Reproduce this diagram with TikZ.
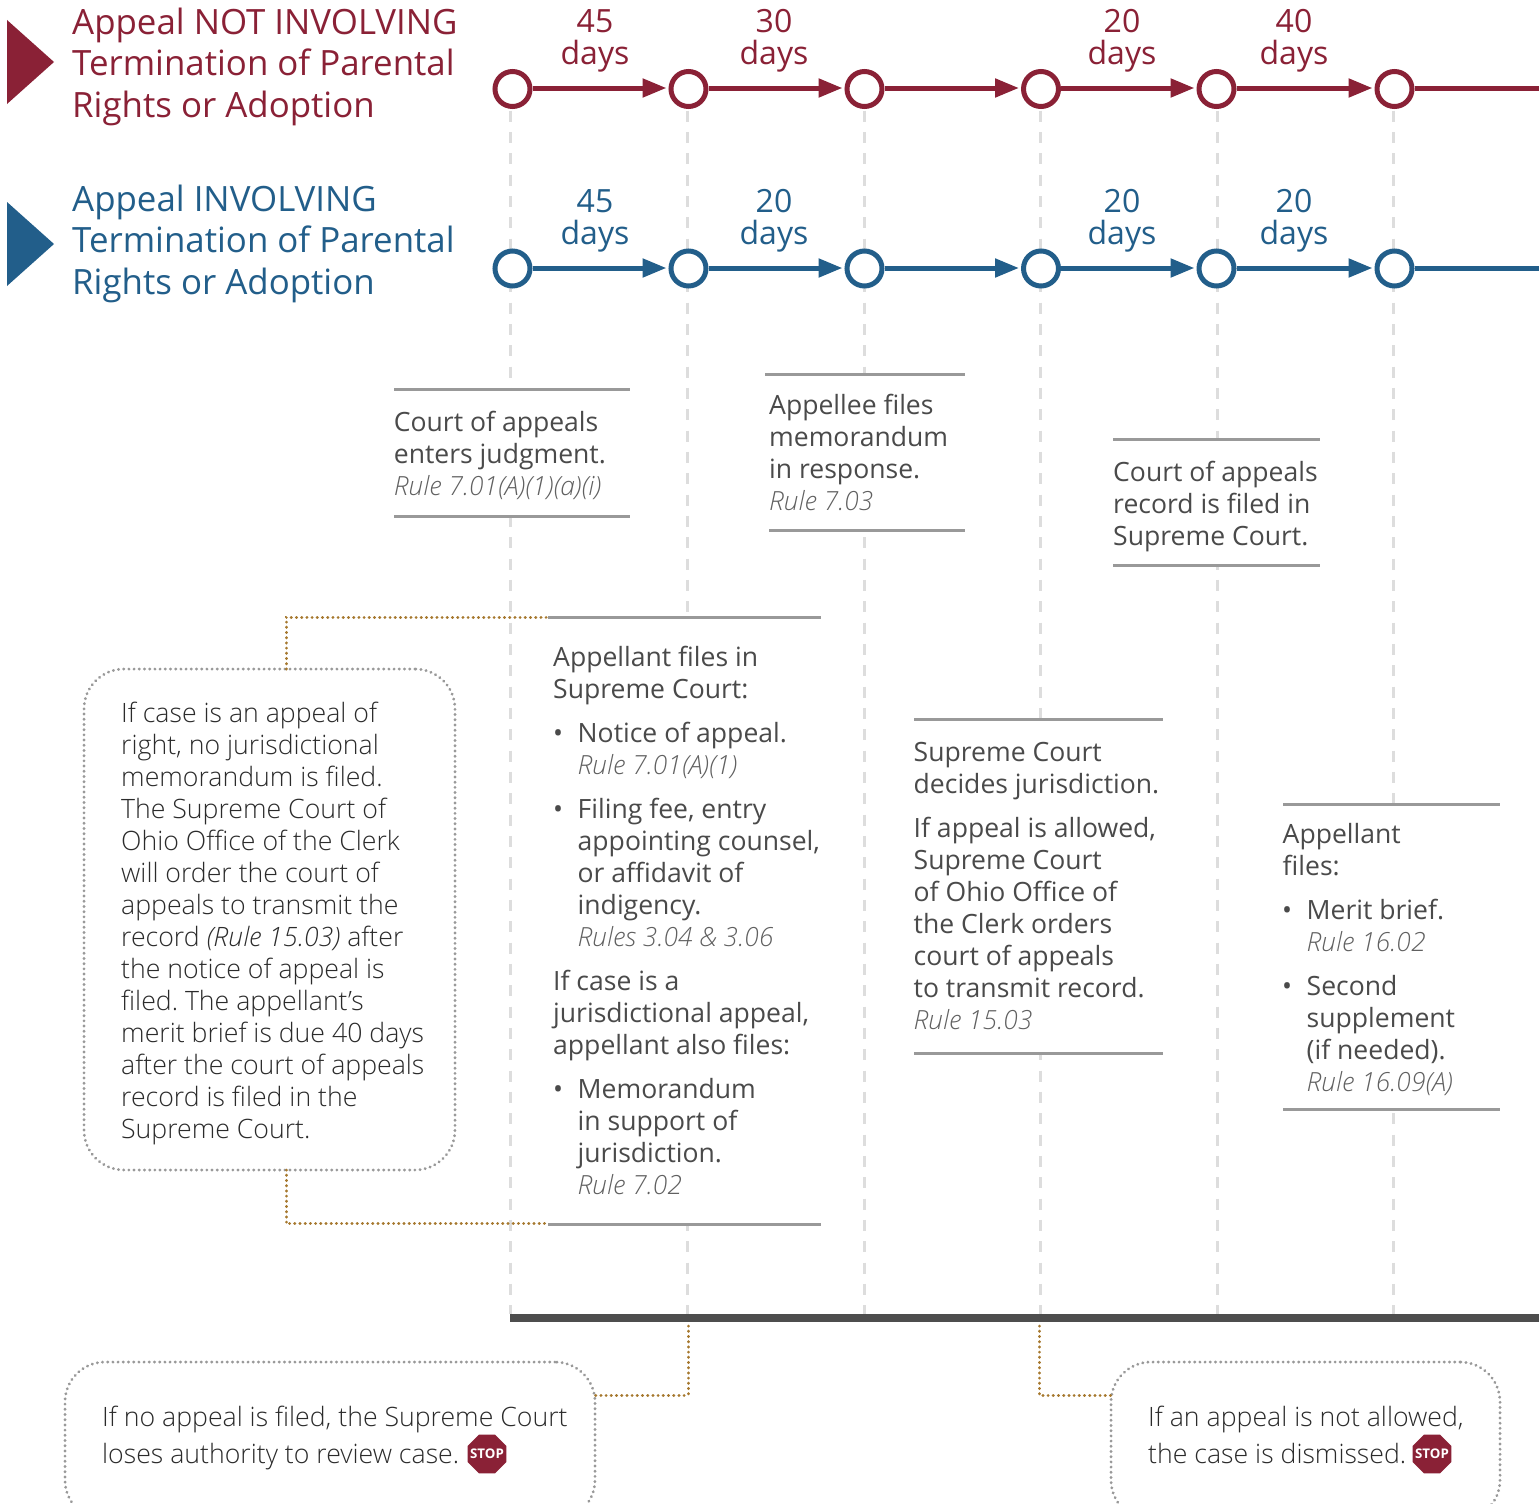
\documentclass[tikz,border=0pt]{standalone}
\usepackage{fontspec}
\setmainfont{Open Sans Light}
\newfontfamily\headfont{Open Sans}
\usetikzlibrary{arrows.meta,shapes.geometric}
\definecolor{cred}{HTML}{8A2136}
\definecolor{cblue}{HTML}{225E8A}
\definecolor{cguide}{HTML}{DDDDDD}
\definecolor{crule}{HTML}{999999}
\definecolor{cbar}{HTML}{4D4D4D}
\definecolor{cgold}{HTML}{A6782E}
\definecolor{cbody}{HTML}{4A4A4A}
\definecolor{cdark}{HTML}{2B2B2B}
\definecolor{crulet}{HTML}{606060}
\tikzset{
  x=1pt,y=-1pt,
  guide/.style={draw=cguide,line width=3pt,dash pattern=on 11pt off 10.33pt},
  mask/.style={fill=white,draw=none,inner sep=0pt,anchor=north west},
  sep/.style={draw=crule,line width=3pt},
  para/.style={inner sep=0pt,align=left,text=cbody,font=\headfont\fontsize{26.55}{32}\selectfont},
  dark/.style={text=cdark,font=\normalfont\fontsize{26.67}{32}\selectfont},
  head/.style={inner sep=0pt,align=left,font=\headfont\fontsize{34.85}{41.6}\selectfont},
  dayl/.style={inner sep=0pt,align=center,anchor=north,font=\headfont\fontsize{32}{32}\selectfont},
  stn/.style={circle,fill=white,line width=5pt,minimum size=35pt,inner sep=0pt},
  link/.style={line width=5pt,-{Triangle[length=24pt,width=18pt]},shorten >=2pt},
  plain/.style={line width=5pt},
  conn/.style={draw=cgold,line width=3pt,line cap=round,dash pattern=on 0.2pt off 5pt},
  dotbox/.style={draw=crule,line width=3pt,line cap=round,dash pattern=on 0.2pt off 5pt,rounded corners=40pt,inner sep=0pt,outer sep=0pt,anchor=north west},
  stopn/.style={regular polygon,regular polygon sides=8,fill=cred,minimum size=42pt,inner sep=0pt},
  stopt/.style={inner sep=0pt,text=white,font=\headfont\bfseries\fontsize{13.3}{13.3}\selectfont},
}
\newcommand\ptxt[5][]{\node[para,#1,anchor=north west] (#2) at (#3,#4-21) {\rule{0pt}{20pt}#5};}
\newcommand\rulet[1]{{\normalfont\fontsize{26.4}{32}\selectfont\itshape\color{crulet}#1}}
\begin{document}
\frenchspacing
\begin{tikzpicture}
\path[use as bounding box] (0,0) rectangle (1539,1504);
\clip (0,0) rectangle (1539,1504);
\fill[white] (0,0) rectangle (1539,1504);

% vertical guides
\foreach \gx in {510,687,864,1040,1217,1393}
  \draw[guide] (\gx,110.7) -- (\gx,1314);

% masks for the text boxes
\node[mask,minimum width=236pt,minimum height=127pt] (b1) at (394,389) {};
\node[mask,minimum width=200pt,minimum height=156pt] (b2) at (765,374) {};
\node[mask,minimum width=207pt,minimum height=126pt] (b3) at (1113,439) {};
\node[mask,minimum width=273pt,minimum height=607pt] (b4) at (548,617) {};
\node[mask,minimum width=249pt,minimum height=334pt] (b5) at (914,719) {};
\node[mask,minimum width=217pt,minimum height=305pt] (b6) at (1283,804) {};
\foreach \b in {b1,b3,b4,b5,b6}{
  \draw[sep] (\b.north west) -- (\b.north east);
  \draw[sep] (\b.south west) -- (\b.south east);
}
\draw[sep] (b2.north west) -- (b2.north east);
\draw[sep] ([xshift=4pt]b2.south west) -- (b2.south east);

% heavy bar
\fill[cbar] (510,1314) rectangle (1539,1322);

% headings
\fill[cred] (7,20) -- (54,62) -- (7,104) -- cycle;
\fill[cblue] (7,202) -- (54,244) -- (7,286) -- cycle;
\node[head,text=cred,anchor=north west] (h1) at (72,7) {\rule{0pt}{27pt}Appeal NOT INVOLVING\\Termination of Parental\\Rights or Adoption};
\node[head,text=cblue,anchor=north west] (h2) at (72,184) {\rule{0pt}{27pt}Appeal INVOLVING\\Termination of Parental\\Rights or Adoption};

% timelines
\foreach \n/\x in {1/512.5,2/688.5,3/864.5,4/1041,5/1216.5,6/1394.5}{
  \node[stn,draw=cred] (r\n) at (\x,89) {};
  \node[stn,draw=cblue] (s\n) at (\x,268.5) {};
}
\coordinate (rend) at (1539,88);
\coordinate (send) at (1539,268.5);
\foreach \a/\c in {1/2,2/3,3/4,4/5,5/6}{
  \draw[link,cred] ([yshift=1pt]r\a.east) -- ([yshift=1pt]r\c.west);
  \draw[link,cblue] ([yshift=.5pt]s\a.east) -- ([yshift=.5pt]s\c.west);
}
\draw[plain,cred] ([yshift=1pt]r6.east) -- (rend);
\draw[plain,cblue] (s6.east) -- (send);

% day labels
\foreach \n/\x/\tr/\tb in {1/595/45/45,2/774/30/20,3/1122/20/20,4/1294/40/20}{
  \node[dayl,text=cred] (dr\n) at (\x,9) {\rule{0pt}{23pt}\tr\\days};
  \node[dayl,text=cblue] (db\n) at (\x,189) {\rule{0pt}{23pt}\tb\\days};
}

% box texts
\ptxt{t1}{393.7}{432}{Court of appeals\\enters judgment.\\\rulet{Rule 7.01(A)(1)(a)(i)}}
\ptxt{t2}{769}{415}{Appellee files\\memorandum\\in response.\\\rulet{Rule 7.03}}
\ptxt{t3}{1113}{482}{Court of appeals\\record is filed in\\Supreme Court.}

\ptxt{t4a}{553}{667}{Appellant files in\\Supreme Court:}
\ptxt{t4b}{553}{743}{•}
\ptxt{t4c}{577.5}{743}{Notice of appeal.\\\rulet{Rule 7.01(A)(1)}}
\ptxt{t4d}{553}{819}{•}
\ptxt{t4e}{577.5}{819}{Filing fee, entry\\appointing counsel,\\or affidavit of\\indigency.\\\rulet{Rules 3.04 \& 3.06}}
\ptxt{t4f}{553}{991}{If case is a\\jurisdictional appeal,\\appellant also files:}
\ptxt{t4g}{553}{1099}{•}
\ptxt{t4h}{577.5}{1099}{Memorandum\\in support of\\jurisdiction.\\\rulet{Rule 7.02}}

\ptxt{t5a}{913.5}{762}{Supreme Court\\decides jurisdiction.}
\ptxt{t5b}{913.5}{838}{If appeal is allowed,\\Supreme Court\\of Ohio Office of\\the Clerk orders\\court of appeals\\to transmit record.\\\rulet{Rule 15.03}}

\ptxt{t6a}{1282.5}{844}{Appellant\\files:}
\ptxt{t6b}{1282}{920}{•}
\ptxt{t6c}{1306.5}{920}{Merit brief.\\\rulet{Rule 16.02}}
\ptxt{t6d}{1282}{996}{•}
\ptxt{t6e}{1306.5}{996}{Second\\supplement\\(if needed).\\\rulet{Rule 16.09(A)}}

% dotted boxes
\node[dotbox,minimum width=371pt,minimum height=501pt] (A) at (84,669) {};
\node[dotbox,minimum width=530pt,minimum height=158pt] (B) at (65,1362) {};
\node[dotbox,minimum width=389pt,minimum height=158pt] (C) at (1111,1362) {};
\ptxt[dark]{ta}{121}{723}{If case is an appeal of\\right, no jurisdictional\\memorandum is filed.\\The Supreme Court of\\Ohio Office of the Clerk\\will order the court of\\appeals to transmit the\\record {\itshape (Rule 15.03)} after\\the notice of appeal is\\filed. The appellant’s\\merit brief is due 40 days\\after the court of appeals\\record is filed in the\\Supreme Court.}
\ptxt[dark,font=\normalfont\fontsize{26.67}{37}\selectfont]{tb}{102}{1427}{If no appeal is filed, the Supreme Court\\loses authority to review case.}
\ptxt[dark,font=\normalfont\fontsize{26.67}{37}\selectfont]{tc}{1148}{1427}{If an appeal is not allowed,\\the case is dismissed.}
\node[stopn] (stopb) at (487,1454) {};
\node[stopt] (stopbt) at (487,1454) {STOP};
\node[stopn] (stopc) at (1432,1454) {};
\node[stopt] (stopct) at (1432,1454) {STOP};

% dotted connectors
\coordinate (ca1) at (286,669);
\coordinate (ca2) at (286,1170);
\coordinate (cb1) at (688,1326);
\coordinate (cb2) at (595,1395);
\coordinate (cc1) at (1039,1326);
\coordinate (cc2) at (1111,1395);
\draw[conn] (ca1) |- ([xshift=-2pt]b4.north west);
\draw[conn] (ca2) |- ([xshift=-2pt,yshift=.7pt]b4.south west);
\draw[conn] (cb1) |- (cb2);
\draw[conn] (cc1) |- (cc2);
\end{tikzpicture}
\end{document}
